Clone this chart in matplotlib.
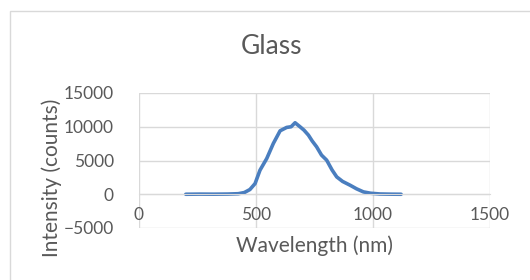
import numpy as np
import matplotlib.pyplot as plt
from matplotlib.patches import Rectangle

# spectrum
wavelength = [200, 260, 320, 380, 424, 450, 474, 496, 517, 546, 574, 603, 631, 650, 667,
              688, 705, 724, 740, 759, 780, 802, 825, 845, 870, 902, 930, 959, 990, 1030, 1080, 1120]
intensity = [0, 20, 10, 30, 80, 250, 700, 1580, 3560, 5300, 7520, 9400, 9900, 10000, 10590,
             10000, 9500, 8760, 7900, 7030, 5800, 5050, 3600, 2570, 1900, 1340, 800, 350, 150, 40, 10, 0]

yticks = [-5000, 0, 5000, 10000, 15000]
xticks = [0, 500, 1000, 1500]

plt.rcParams['font.family'] = ['Lato', 'DejaVu Sans']
grey = '#595959'
gridc = '#d9d9d9'

fig = plt.figure(figsize=(5.3, 2.8), dpi=100)
fig.patches.append(Rectangle((10/530, -0.1), 1.2, 1.1 - 11/280, transform=fig.transFigure,
                             fill=False, edgecolor=gridc, linewidth=1))

ax = fig.add_axes([139/530, 52/280, 351/530, 135/280])
ax.plot(wavelength, intensity, color='#4a7ebf', linewidth=2.6, solid_capstyle='round')

ax.set_xlim(0, 1500)
ax.set_ylim(-5000, 15000)
ax.set_xticks(xticks)
ax.set_yticks(yticks)
ax.grid(True, color=gridc, linewidth=1)
ax.set_axisbelow(True)
for s in ['top', 'right', 'left']:
    ax.spines[s].set_visible(False)
ax.spines['bottom'].set_position(('data', 0))
ax.spines['bottom'].set_color(gridc)
ax.tick_params(length=0, labelsize=12.5, colors=grey)
ax.tick_params(axis='y', pad=18)
ax.tick_params(axis='x', pad=9)

fig.text(272/530, 1 - 47/280, 'Glass', fontsize=19, color=grey, ha='center', va='center')
fig.text(314/530, 1 - 246/280, 'Wavelength (nm)', fontsize=15, color=grey, ha='center', va='center')
fig.text(52/530, 1 - 178/280, 'Intensity (counts)', fontsize=15, color=grey, ha='center',
         va='center', rotation=90)

fig.savefig('out.png', dpi=100)
